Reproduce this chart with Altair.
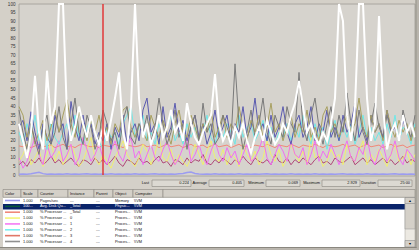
import altair as alt
import pandas as pd

# ---------------- data ----------------
sample_index = list(range(100))   # 100 samples, 15 s each = 25:00
marker_sample = [21]              # current-time bar

y_ticks = [0, 5, 10, 15, 20, 25, 30, 35, 40, 45, 50, 55, 60, 65, 70, 75, 80, 85, 90, 95, 100]

pages_sec = [
    0.5, 0.6, 0.5, 0.7, 1.2, 1.6, 0.8, 0.5, 0.6, 0.5,
    0.6, 0.5, 0.7, 0.5, 0.6, 0.5, 0.6, 0.7, 0.5, 0.6,
    0.5, 0.6, 0.5, 0.7, 0.5, 0.6, 0.5, 0.6, 0.5, 0.7,
    0.5, 0.6, 0.5, 0.6, 0.7, 0.5, 0.6, 0.5, 0.6, 0.5,
    0.7, 0.9, 1.4, 1.7, 0.9, 0.6, 0.5, 0.6, 0.5, 0.7,
    0.5, 0.6, 0.5, 0.6, 0.5, 0.7, 0.5, 0.6, 0.5, 0.6,
    0.5, 0.6, 0.7, 0.5, 0.6, 0.5, 0.6, 0.5, 0.7, 0.5,
    0.6, 0.5, 0.6, 0.5, 0.7, 0.5, 0.6, 0.5, 0.6, 0.5,
    0.6, 0.7, 0.5, 0.6, 0.5, 0.6, 0.5, 0.7, 0.5, 0.6,
    0.5, 0.6, 0.5, 0.6, 0.7, 0.5, 0.6, 0.5, 0.6, 0.5]

cpu_total = [
    17, 16.5, 17.5, 16, 17, 18, 16.5, 17, 17.5, 16,
    17, 18, 16.5, 17, 16, 17.5, 18, 17, 16.5, 17,
    16, 17.5, 17, 16.5, 18, 17, 16, 17.5, 17, 16.5,
    17, 18, 16.5, 17, 17.5, 16, 17, 18, 16.5, 17,
    17.5, 16, 17, 18, 16.5, 17, 17.5, 16, 17, 18,
    16.5, 17, 17.5, 16, 17, 18, 16.5, 17, 16, 17.5,
    17, 16.5, 18, 17, 16, 17.5, 17, 16.5, 18, 17,
    16, 17.5, 17, 16.5, 18, 17, 16, 17.5, 17, 16.5,
    17, 18, 16.5, 17, 17.5, 16, 17, 18, 16.5, 17,
    17.5, 16, 17, 18, 16.5, 17, 17.5, 16, 17, 17.5]

cpu3 = [
    6, 8, 5, 9, 7, 10, 6, 8, 11, 7,
    9, 6, 8, 10, 7, 5, 9, 8, 6, 10,
    7, 9, 6, 8, 11, 7, 5, 9, 8, 6,
    10, 7, 8, 6, 9, 11, 7, 8, 5, 9,
    8, 6, 10, 7, 9, 8, 12, 7, 6, 9,
    7, 10, 8, 6, 9, 7, 11, 8, 6, 10,
    8, 7, 9, 6, 12, 8, 7, 10, 6, 9,
    7, 10, 8, 6, 9, 11, 7, 8, 6, 10,
    8, 7, 9, 11, 6, 8, 10, 7, 9, 6,
    8, 10, 7, 9, 6, 8, 11, 7, 9, 8]

cpu0 = [
    8, 12, 18, 6, 10, 15, 5, 12, 20, 8,
    14, 6, 10, 18, 12, 5, 8, 15, 22, 10,
    6, 12, 8, 4, 10, 15, 20, 12, 8, 5,
    10, 18, 14, 6, 12, 22, 10, 8, 15, 6,
    12, 8, 5, 10, 18, 12, 6, 14, 20, 10,
    8, 15, 6, 12, 10, 5, 18, 12, 8, 14,
    6, 10, 20, 12, 8, 15, 5, 10, 18, 12,
    8, 14, 6, 22, 10, 12, 5, 8, 15, 10,
    12, 6, 18, 10, 8, 14, 20, 6, 12, 8,
    15, 10, 5, 12, 18, 8, 10, 14, 6, 12]

cpu1 = [
    10, 4, 8, 15, 22, 12, 6, 18, 10, 14,
    20, 8, 12, 18, 6, 10, 22, 15, 8, 12,
    18, 10, 6, 14, 20, 12, 8, 16, 22, 10,
    14, 6, 12, 18, 10, 8, 15, 20, 12, 6,
    10, 16, 22, 8, 12, 18, 10, 6, 14, 20,
    12, 8, 16, 10, 14, 6, 12, 18, 8, 10,
    15, 22, 10, 6, 12, 18, 14, 8, 20, 12,
    10, 16, 6, 12, 20, 8, 14, 10, 18, 12,
    6, 14, 20, 10, 8, 16, 12, 22, 10, 6,
    14, 18, 8, 12, 20, 10, 6, 15, 12, 8]

cpu2 = [
    25, 18, 30, 22, 35, 20, 28, 15, 32, 22,
    18, 25, 30, 20, 35, 22, 18, 28, 32, 25,
    20, 15, 28, 22, 25, 18, 30, 35, 40, 22,
    28, 35, 20, 25, 18, 30, 22, 28, 35, 20,
    25, 18, 30, 22, 28, 20, 25, 35, 22, 18,
    28, 22, 30, 25, 18, 35, 22, 28, 30, 20,
    25, 32, 20, 28, 18, 25, 22, 30, 20, 28,
    22, 35, 25, 18, 30, 22, 28, 15, 25, 32,
    20, 28, 22, 30, 18, 25, 35, 22, 28, 20,
    25, 18, 30, 22, 35, 20, 28, 25, 18, 30]

cpu6 = [
    28, 32, 20, 37, 25, 15, 30, 22, 18, 35,
    25, 30, 15, 43, 28, 20, 35, 22, 30, 18,
    25, 20, 30, 15, 28, 22, 35, 18, 25, 30,
    20, 38, 45, 25, 30, 18, 40, 22, 28, 42,
    25, 32, 20, 28, 35, 22, 30, 18, 25, 38,
    22, 28, 35, 20, 30, 25, 40, 22, 28, 45,
    25, 30, 20, 35, 22, 28, 40, 25, 18, 30,
    35, 22, 28, 40, 20, 30, 25, 38, 22, 28,
    20, 35, 25, 30, 42, 22, 28, 20, 35, 25,
    30, 22, 38, 25, 28, 20, 32, 25, 30, 22]

cpu5 = [
    40, 35, 22, 30, 18, 25, 32, 20, 28, 38,
    25, 35, 44, 30, 22, 38, 28, 20, 32, 25,
    35, 22, 28, 18, 30, 25, 38, 40, 28, 22,
    30, 25, 20, 35, 28, 22, 32, 25, 18, 30,
    38, 25, 22, 35, 28, 20, 30, 25, 38, 22,
    28, 35, 22, 30, 25, 40, 28, 20, 32, 25,
    35, 22, 28, 42, 25, 30, 20, 28, 35, 22,
    30, 25, 38, 22, 28, 20, 35, 40, 25, 30,
    22, 28, 35, 25, 30, 45, 28, 22, 35, 25,
    30, 20, 38, 28, 22, 32, 25, 30, 20, 28]

cpu4 = [
    38, 25, 15, 30, 20, 12, 28, 35, 18, 25,
    40, 22, 15, 30, 45, 25, 18, 35, 28, 15,
    22, 38, 30, 20, 25, 15, 32, 40, 22, 18,
    30, 25, 35, 20, 28, 45, 30, 18, 25, 38,
    22, 30, 15, 28, 35, 20, 42, 25, 30, 18,
    22, 35, 28, 20, 65, 30, 15, 25, 38, 22,
    30, 45, 25, 18, 35, 28, 22, 40, 30, 25,
    60, 28, 20, 35, 45, 28, 18, 30, 40, 22,
    35, 25, 48, 30, 20, 38, 25, 18, 30, 42,
    28, 22, 35, 25, 30, 20, 38, 28, 22, 35]

disk_queue = [
    30, 20, 10, 25, 58, 25, 15, 61, 30, 40,
    100, 100, 35, 20, 28, 40, 30, 22, 35, 25,
    18, 28, 20, 32, 45, 60, 25, 15, 40, 100,
    45, 22, 30, 18, 25, 35, 22, 28, 38, 25,
    30, 20, 42, 30, 22, 18, 25, 30, 35, 59,
    30, 20, 25, 18, 28, 22, 30, 20, 13, 22,
    28, 20, 32, 25, 18, 22, 30, 25, 35, 42,
    55, 40, 25, 30, 22, 18, 25, 20, 30, 45,
    100, 90, 35, 20, 40, 100, 100, 45, 20, 30,
    93, 40, 15, 25, 30, 20, 35, 25, 30, 22]

series_names = ["Pages/sec", "% Processor Time _Total", "% Processor Time 3",
                "% Processor Time 0", "% Processor Time 1", "% Processor Time 2",
                "% Processor Time 6", "% Processor Time 5", "% Processor Time 4",
                "Avg. Disk Queue Length"]
series_values = [pages_sec, cpu_total, cpu3, cpu0, cpu1, cpu2, cpu6, cpu5, cpu4, disk_queue]

# legend table
row_index = [0, 1, 2, 3, 4, 5, 6, 7]
row_swatch = ["#9c9cf0", "#0a5a3a", "#f08878", "#f4f47a", "#f47af4", "#7af0f0", "#e07868", "#909090"]
row_scale = ["1.000", "100...", "1.000", "1.000", "1.000", "1.000", "1.000", "1.000"]
row_counter = ["Pages/sec", "Avg. Disk Qu...", "% Processor ...", "% Processor ...",
               "% Processor ...", "% Processor ...", "% Processor ...", "% Processor ..."]
row_instance = ["---", "_Total", "_Total", "0", "1", "2", "3", "4"]
row_parent = ["---", "---", "---", "---", "---", "---", "---", "---"]
row_object = ["Memory", "Physic...", "Proces...", "Proces...", "Proces...", "Proces...", "Proces...", "Proces..."]
row_computer = ["\\\\VM", "\\\\VM", "\\\\VM", "\\\\VM", "\\\\VM", "\\\\VM", "\\\\VM", "\\\\VM"]
selected_row = 1

header_names = ["Color", "Scale", "Counter", "Instance", "Parent", "Object", "Computer"]

stat_labels = ["Last", "Average", "Minimum", "Maximum", "Duration"]
stat_values = ["0.224", "0.405", "0.069", "2.929", "25:00"]

# ---------------- layout / style ----------------
FONT = "Liberation Sans"
FS = 3.9
BG = "#d4d0c8"
series_colors = ["#9c9cf0", "#f08878", "#b04878", "#f0f070", "#f070f0", "#70e8e8",
                 "#5a5ab0", "#a8a060", "#7a7a7a", "#ffffff"]
series_widths = [1.5, 1, 1, 1, 1, 1, 1, 1, 1, 2]

PLOT_X = [19, 415]
PLOT_Y = [175, 4]
header_edges = [3, 21, 38, 68, 94, 113, 133, 163]
col_x = [23, 40, 70, 96, 115, 134]
stat_label_right = [149, 207, 264, 320, 376]
stat_box = [(152, 191), (209, 244), (266, 300), (322, 360), (378, 412)]
stat_value_right = [189, 242, 298, 357, 410]

one = alt.Data(values=[{"a": 1}])


def box(x1, x2, y1, y2, fill, stroke=None, sw=0.6):
    kw = dict(fill=fill, strokeWidth=sw if stroke else 0)
    if stroke:
        kw["stroke"] = stroke
    return alt.Chart(one).mark_rect(**kw).encode(
        x=alt.value(x1), x2=alt.value(x2), y=alt.value(y1), y2=alt.value(y2))


def label(x, y, text, align="left", color="#111111", size=FS):
    return alt.Chart(one).mark_text(text=text, align=align, baseline="middle",
                                    font=FONT, fontSize=size, color=color).encode(
        x=alt.value(x), y=alt.value(y))


# ---------------- line plot ----------------
recs = []
for name, vals in zip(series_names, series_values):
    assert len(vals) == 100, name
    for t, v in zip(sample_index, vals):
        recs.append({"series": name, "t": t, "v": v})
df = pd.DataFrame(recs)

xs = alt.Scale(domain=[0, 99], range=PLOT_X, nice=False, zero=False)
ys = alt.Scale(domain=[0, 100], range=PLOT_Y, nice=False, zero=True)
y_axis = alt.Axis(values=y_ticks, title=None, labelFont=FONT, labelFontSize=4.6,
                  labelColor="#333333", domain=False, ticks=False, tickSize=0,
                  grid=False, labelPadding=2, offset=-17, labelFlush=False,
                  labelOverlap=False)

line_layers = []
for name, color, w in zip(series_names, series_colors, series_widths):
    line_layers.append(
        alt.Chart(df).transform_filter(alt.datum.series == name)
        .mark_line(color=color, strokeWidth=w, clip=True)
        .encode(x=alt.X("t:Q", scale=xs, axis=None),
                y=alt.Y("v:Q", scale=ys, axis=y_axis)))

marker = alt.Chart(pd.DataFrame({"t": marker_sample})).mark_rule(
    color="#e03838", strokeWidth=1.5).encode(
    x=alt.X("t:Q", scale=xs, axis=None), y=alt.value(4), y2=alt.value(175))

plot = alt.layer(*line_layers, marker)

plot_frame = box(PLOT_X[0], PLOT_X[1], PLOT_Y[1], PLOT_Y[0] + 1, "#d6d3cd", "#a09c94", 0.8)

# ---------------- statistics bar ----------------
stat_layers = []
for i, (lab, val) in enumerate(zip(stat_labels, stat_values)):
    bx1, bx2 = stat_box[i]
    stat_layers.append(box(bx1, bx2, 180, 186.5, "#dcd9d2", "#8a877f", 0.6))
    stat_layers.append(label(stat_label_right[i], 183.3, lab, "right"))
    stat_layers.append(label(stat_value_right[i], 183.3, val, "right"))

# ---------------- table ----------------
table_df = pd.DataFrame({
    "row": row_index, "swatch": row_swatch, "scale": row_scale, "counter": row_counter,
    "instance": row_instance, "parent": row_parent, "object": row_object,
    "computer": row_computer})
row_sc = alt.Scale(domain=[0, 7], range=[200.5, 241.5], nice=False, zero=False)

table_layers = [
    box(3, 405, 197.5, 247, "#ffffff"),
    box(3, 405, 203.9, 209.5, "#0a246a"),
]
for i, name in enumerate(header_names):
    table_layers.append(box(header_edges[i], header_edges[i + 1], 189.5, 197.3, BG, "#8a877f", 0.6))
    table_layers.append(label(header_edges[i] + 2, 193.5, name))
table_layers.append(box(header_edges[-1], 415, 189.5, 197.3, BG, "#8a877f", 0.6))

table_layers.append(
    alt.Chart(table_df).mark_rule(strokeWidth=1.6).encode(
        x=alt.value(5), x2=alt.value(20),
        y=alt.Y("row:Q", scale=row_sc, axis=None),
        color=alt.Color("swatch:N", scale=None, legend=None)))

text_color = alt.condition(alt.datum.row == selected_row, alt.value("#ffffff"), alt.value("#111111"))
for field, xpos in zip(["scale", "counter", "instance", "parent", "object", "computer"], col_x):
    table_layers.append(
        alt.Chart(table_df).mark_text(align="left", baseline="middle", font=FONT, fontSize=FS)
        .encode(x=alt.value(xpos), y=alt.Y("row:Q", scale=row_sc, axis=None),
                text=alt.Text(f"{field}:N"), color=text_color))

# scrollbar
table_layers += [
    box(405, 415, 197.5, 247, "#ece9e2", "#a09c94", 0.5),
    box(405, 415, 197.5, 203.5, BG, "#808080", 0.5),
    box(405, 415, 203.5, 229, BG, "#909090", 0.5),
    box(405, 415, 240.5, 247, BG, "#808080", 0.5),
    label(410, 200.6, "▴", "center", "#000000", 4),
    label(410, 243.8, "▾", "center", "#000000", 4),
]

# outer frame / shadow
frame_layers = [
    box(0, 417, 247, 248.2, "#8a877f"),
    box(415.5, 416.7, 0, 248.2, "#8a877f"),
    box(0, 419, 248.2, 250, "#b8b4ac"),
    box(416.7, 419, 0, 250, "#b8b4ac"),
]

chart = alt.layer(
    plot_frame, plot, *stat_layers, *table_layers, *frame_layers
).resolve_scale(x="independent", y="independent", color="independent").properties(
    width=419, height=250, autosize=alt.AutoSizeParams(type="none"), padding=0,
    background=BG
).configure_view(strokeWidth=0)

chart.save("out.html", embed_options={"renderer": "svg", "actions": False})
